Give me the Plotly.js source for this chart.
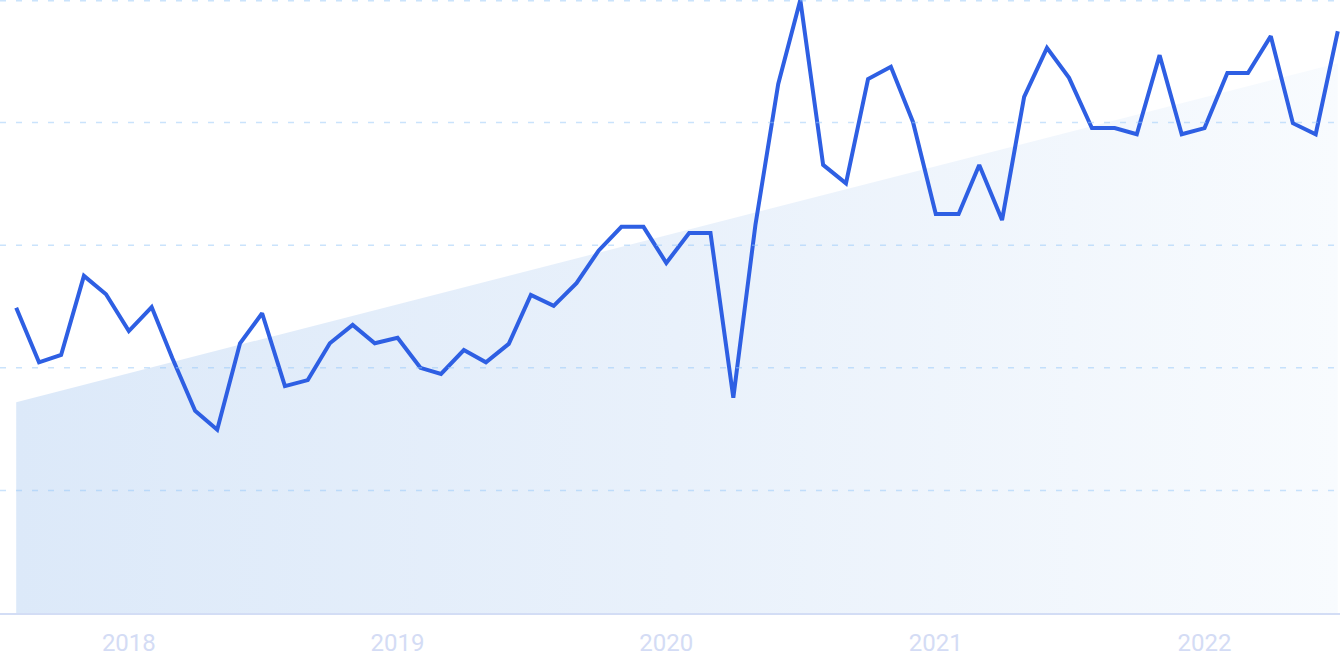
<!DOCTYPE html>
<html>
<head>
<meta charset="utf-8">
<script src="https://cdn.plot.ly/plotly-3.0.1.min.js"></script>
<style>
  html, body { margin: 0; padding: 0; background: #ffffff; }
  #chart { width: 1343px; height: 671px; }
</style>
</head>
<body>
<div id="chart"></div>
<script>
// Monthly dates, Aug 2017 .. Jul 2022
const months = [
  '2017-08-01','2017-09-01','2017-10-01','2017-11-01','2017-12-01',
  '2018-01-01','2018-02-01','2018-03-01','2018-04-01','2018-05-01','2018-06-01','2018-07-01',
  '2018-08-01','2018-09-01','2018-10-01','2018-11-01','2018-12-01',
  '2019-01-01','2019-02-01','2019-03-01','2019-04-01','2019-05-01','2019-06-01','2019-07-01',
  '2019-08-01','2019-09-01','2019-10-01','2019-11-01','2019-12-01',
  '2020-01-01','2020-02-01','2020-03-01','2020-04-01','2020-05-01','2020-06-01','2020-07-01',
  '2020-08-01','2020-09-01','2020-10-01','2020-11-01','2020-12-01',
  '2021-01-01','2021-02-01','2021-03-01','2021-04-01','2021-05-01','2021-06-01','2021-07-01',
  '2021-08-01','2021-09-01','2021-10-01','2021-11-01','2021-12-01',
  '2022-01-01','2022-02-01','2022-03-01','2022-04-01','2022-05-01','2022-06-01','2022-07-01'
];

// Search interest (relative, 0-100)
const interest = [
  49.8, 40.9, 42.1, 55.0, 52.0,
  46.0, 49.9, 41.6, 33.0, 29.9, 44.0, 48.9,
  37.0, 38.0, 44.0, 47.0, 44.0,
  44.9, 40.0, 39.0, 42.9, 40.9, 43.9, 51.9,
  50.1, 53.8, 59.1, 63.0, 63.0,
  57.1, 62.0, 62.0, 35.1, 63.3, 86.3, 100,
  73.1, 70.1, 87.1, 89.1, 80.1,
  65.1, 65.1, 73.1, 64.1, 84.2, 92.2, 87.3,
  79.1, 79.1, 78.1, 91.0, 78.1,
  79.1, 88.1, 88.1, 94.1, 79.9, 78.1, 94.9
];

// Trend line end points
const trendDates = ['2017-08-01', '2022-07-01'];
const trendValues = [34.4, 89.7];

// Axis ticks
const tickDates = ['2018-01-01', '2019-01-01', '2020-01-01', '2021-01-01', '2022-01-01'];
const tickLabels = ['2018', '2019', '2020', '2021', '2022'];
const gridValues = [20, 40, 60, 80, 100];

const traces = [
  {
    type: 'scatter',
    mode: 'lines',
    x: trendDates,
    y: trendValues,
    line: { width: 0, color: 'rgba(0,0,0,0)' },
    fill: 'tozeroy',
    fillcolor: '#e6effb',
    fillgradient: {
      type: 'horizontal',
      colorscale: [[0, '#dce9f9'], [0.5, '#e9f1fb'], [1, '#f8fbfe']]
    },
    hoverinfo: 'skip',
    showlegend: false
  },
  {
    type: 'scatter',
    mode: 'lines',
    x: months,
    y: interest,
    line: { color: '#2e5fe3', width: 4, shape: 'linear' },
    hoverinfo: 'skip',
    showlegend: false
  }
];

// Dashed grid lines drawn over the fill
const gridShapes = gridValues.map(v => ({
  type: 'line',
  layer: 'above',
  xref: 'paper', x0: 0, x1: 1,
  yref: 'y', y0: v, y1: v,
  line: { color: 'rgba(150,200,250,0.5)', width: v === 100 ? 3 : 1.5, dash: '6px,10px' }
}));

const layout = {
  width: 1343,
  height: 671,
  margin: { l: 0, r: 3, t: 0, b: 58, pad: 0 },
  paper_bgcolor: '#ffffff',
  plot_bgcolor: '#ffffff',
  showlegend: false,
  shapes: gridShapes,
  xaxis: {
    type: 'date',
    range: ['2017-07-10', '2022-07-04'],
    tickmode: 'array',
    tickvals: tickDates,
    ticktext: tickLabels,
    showgrid: false,
    zeroline: false,
    showline: true,
    linecolor: '#d3ddf5',
    linewidth: 2,
    ticks: '',
    ticklabelstandoff: 7,
    tickfont: { family: 'Roboto, Inter, sans-serif', size: 24, color: '#d4dcf5' },
    fixedrange: true
  },
  yaxis: {
    range: [0, 100],
    showticklabels: false,
    showgrid: false,
    zeroline: false,
    showline: false,
    fixedrange: true
  }
};

Plotly.newPlot('chart', traces, layout, { staticPlot: true, displayModeBar: false });
</script>
</body>
</html>
